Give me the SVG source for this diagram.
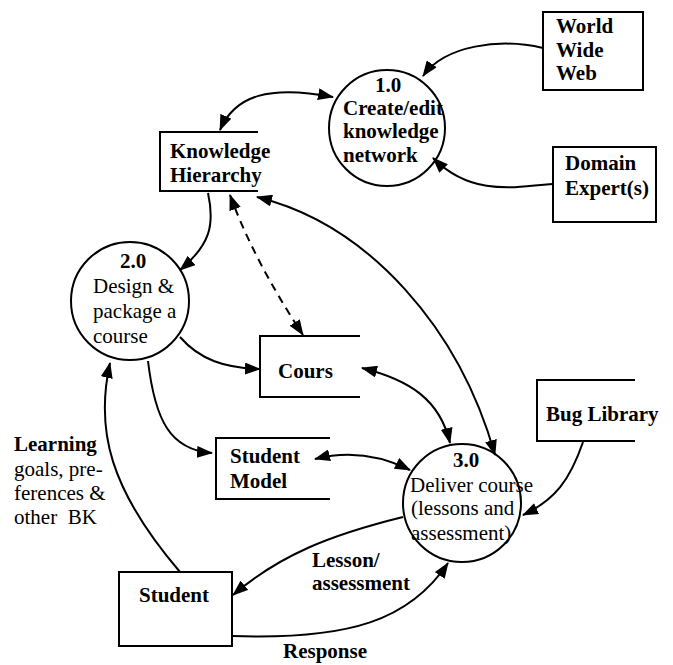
<svg xmlns="http://www.w3.org/2000/svg" width="673" height="665" viewBox="0 0 673 665">
<style>
text{font-size:21px;fill:#000}
.b{font-weight:bold}
.box{fill:#fff;stroke:#000;stroke-width:2}
.ln{fill:none;stroke:#000;stroke-width:2}
.c{fill:none;stroke:#000;stroke-width:2}
.d{stroke-dasharray:8,6}
</style>
<defs>
<marker id="ah" viewBox="0 0 16 12" refX="15" refY="6" markerWidth="16" markerHeight="12" markerUnits="userSpaceOnUse" orient="auto-start-reverse">
<path d="M0,0 L16,6 L0,12 z" fill="#000"/>
</marker>
</defs>
<rect width="673" height="665" fill="#fff"/>
<g id="connectors">
<path class="c" d="M543,48 C500,38 445,45 423,76" marker-end="url(#ah)"/>
<path class="c" d="M553,184 C510,188 470,195 433,158" marker-end="url(#ah)"/>
<path class="c" d="M220,130 C235,95 270,85 333,97" marker-start="url(#ah)" marker-end="url(#ah)"/>
<path class="c" d="M208,193 C215,225 210,245 180,270" marker-end="url(#ah)"/>
<path class="c d" d="M230,195 C250,250 280,300 303,335" marker-start="url(#ah)" marker-end="url(#ah)"/>
<path class="c" d="M257,197 C370,225 460,330 495,455" marker-start="url(#ah)" marker-end="url(#ah)"/>
<path class="c" d="M180,337 C200,360 225,368 260,369" marker-end="url(#ah)"/>
<path class="c" d="M362,368 C410,380 440,400 450,443" marker-start="url(#ah)" marker-end="url(#ah)"/>
<path class="c" d="M148,361 C155,420 170,450 212,453" marker-end="url(#ah)"/>
<path class="c" d="M315,459 C350,450 380,455 410,470" marker-start="url(#ah)" marker-end="url(#ah)"/>
<path class="c" d="M583,442 C570,480 555,500 523,515" marker-end="url(#ah)"/>
<path class="c" d="M403,517 C330,535 280,555 233,595" marker-end="url(#ah)"/>
<path class="c" d="M232,636 C350,640 410,620 448,563" marker-end="url(#ah)"/>
<path class="c" d="M180,572 C110,490 95,430 110,363" marker-end="url(#ah)"/>
</g>
<g font-family="Liberation Serif, serif">
<g id="www">
<rect class="box" x="543" y="12" width="100" height="78"/>
<text class="b" x="556" y="33">World</text>
<text class="b" x="556" y="57">Wide</text>
<text class="b" x="556" y="80">Web</text>
</g>
<g id="domain-expert">
<rect class="box" x="553" y="147" width="103" height="75"/>
<text class="b" x="565" y="170">Domain</text>
<text class="b" x="565" y="195">Expert(s)</text>
</g>
<g id="p1">
<circle cx="387" cy="128" r="58" fill="none" stroke="#000" stroke-width="2"/>
<text class="b" x="388" y="92" text-anchor="middle">1.0</text>
<text class="b" x="343" y="115">Create/edit</text>
<text class="b" x="343" y="138">knowledge</text>
<text class="b" x="343" y="162">network</text>
</g>
<g id="knowledge-hierarchy">
<path class="ln" d="M258,132 H160 V191 H258"/>
<text class="b" x="170" y="158">Knowledge</text>
<text class="b" x="170" y="182">Hierarchy</text>
</g>
<g id="p2">
<circle cx="130" cy="301" r="59" fill="none" stroke="#000" stroke-width="2"/>
<text class="b" x="133" y="268" text-anchor="middle">2.0</text>
<text x="93" y="293">Design &amp;</text>
<text x="93" y="318">package a</text>
<text x="93" y="343">course</text>
</g>
<g id="cours">
<path class="ln" d="M360,336 H260 V397 H360"/>
<text class="b" x="278" y="378">Cours</text>
</g>
<g id="student-model">
<path class="ln" d="M330,438 H216 V499 H330"/>
<text class="b" x="230" y="463">Student</text>
<text class="b" x="230" y="488">Model</text>
</g>
<g id="bug-library">
<path class="ln" d="M635,380 H537 V441 H635"/>
<text class="b" x="546" y="421">Bug Library</text>
</g>
<g id="p3">
<circle cx="462" cy="503" r="59" fill="none" stroke="#000" stroke-width="2"/>
<text class="b" x="466" y="467" text-anchor="middle">3.0</text>
<text x="410" y="492">Deliver course</text>
<text x="411" y="515">(lessons and</text>
<text x="411" y="540">assessment)</text>
</g>
<g id="student">
<rect class="box" x="119" y="572" width="113" height="74"/>
<text class="b" x="139" y="602">Student</text>
</g>
<g id="labels">
<text class="b" x="14" y="451">Learning</text>
<text x="14" y="476">goals, pre-</text>
<text x="14" y="500">ferences &amp;</text>
<text x="14" y="524" xml:space="preserve">other  BK</text>
<text class="b" x="312" y="567">Lesson/</text>
<text class="b" x="312" y="590">assessment</text>
<text class="b" x="283" y="658">Response</text>
</g>
</g>
</svg>
